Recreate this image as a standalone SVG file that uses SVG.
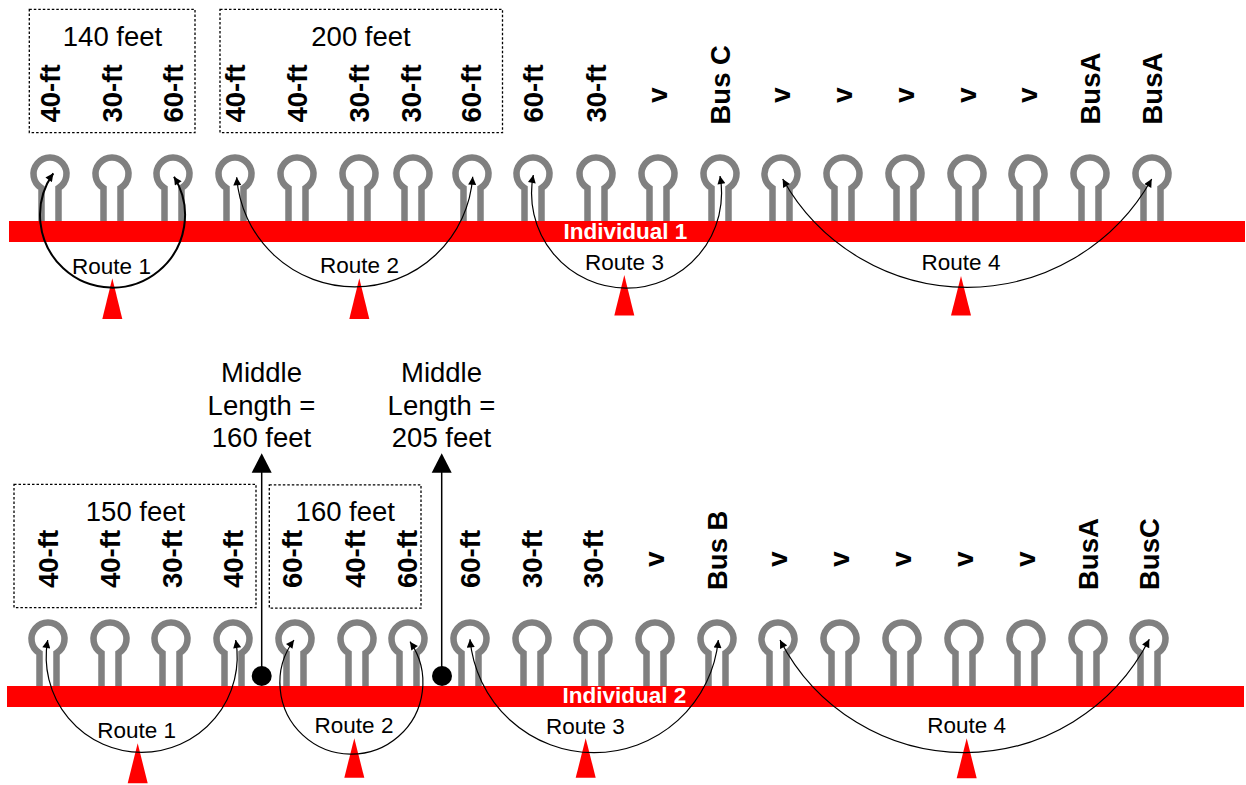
<svg xmlns="http://www.w3.org/2000/svg" xmlns:xlink="http://www.w3.org/1999/xlink" width="1246" height="785" viewBox="0 0 1246 785">
  <style>
    .loop { fill: none; stroke: #808080; stroke-width: 6.5; }
    .bar { fill: #ff0000; }
    .barlabel { font-family: "Liberation Sans", Arial, sans-serif; font-weight: bold; font-size: 22.5px; fill: #ffffff; text-anchor: middle; }
    .slot { font-family: "Liberation Sans", Arial, sans-serif; font-weight: bold; font-size: 27.5px; fill: #000000; }
    .mid { text-anchor: middle; }
    .title { font-family: "Liberation Sans", Arial, sans-serif; font-size: 27.5px; fill: #000000; text-anchor: middle; }
    .route { font-family: "Liberation Sans", Arial, sans-serif; font-size: 22.5px; fill: #000000; text-anchor: middle; }
    .box { fill: none; stroke: #000000; stroke-width: 1.3; stroke-dasharray: 2.5 2; }
    .arc { fill: none; stroke: #000000; stroke-width: 1.2; marker-start: url(#tip); marker-end: url(#tip); }
    .pointer { fill: #ff0000; }
    .stem { stroke: #000000; stroke-width: 1.5; }
  </style>
  <defs>
    <!-- keyhole slot: ring with two legs down to the chromosome bar -->
    <path id="loop" class="loop" d="M-8.5,48 V14.1 A16.5,16.5 0 1 1 8.5,14.1 V48"/>
    <marker id="tip" viewBox="0 0 10 10" refX="10" refY="5" markerWidth="9" markerHeight="8" markerUnits="userSpaceOnUse" orient="auto-start-reverse">
      <path d="M0,0 L10,5 L0,10 z" fill="#000000"/>
    </marker>
  </defs>

  <rect width="1246" height="785" fill="#ffffff"/>

  <!-- ============ Individual 1 ============ -->
  <g id="individual-1">
    <g id="i1-groups">
      <g id="i1-box-140"><rect class="box" x="29.3" y="9.3" width="165.7" height="123.4"/><text class="title" x="112.5" y="46">140 feet</text></g>
      <g id="i1-box-200"><rect class="box" x="220" y="9.3" width="282.5" height="123.4"/><text class="title" x="361" y="46">200 feet</text></g>
    </g>
    <g id="i1-slots">
      <g id="i1-s1"><use xlink:href="#loop" x="50" y="174"/><text class="slot" transform="translate(59.5,122.5) rotate(-90)">40-ft</text></g>
      <g id="i1-s2"><use xlink:href="#loop" x="112" y="174"/><text class="slot" transform="translate(121.5,122.5) rotate(-90)">30-ft</text></g>
      <g id="i1-s3"><use xlink:href="#loop" x="173" y="174"/><text class="slot" transform="translate(182.5,122.5) rotate(-90)">60-ft</text></g>
      <g id="i1-s4"><use xlink:href="#loop" x="235" y="174"/><text class="slot" transform="translate(244.5,122.5) rotate(-90)">40-ft</text></g>
      <g id="i1-s5"><use xlink:href="#loop" x="297" y="174"/><text class="slot" transform="translate(306.5,122.5) rotate(-90)">40-ft</text></g>
      <g id="i1-s6"><use xlink:href="#loop" x="359" y="174"/><text class="slot" transform="translate(368.5,122.5) rotate(-90)">30-ft</text></g>
      <g id="i1-s7"><use xlink:href="#loop" x="413" y="174"/><text class="slot" transform="translate(420.5,122.5) rotate(-90)">30-ft</text></g>
      <g id="i1-s8"><use xlink:href="#loop" x="472" y="174"/><text class="slot" transform="translate(481,122.5) rotate(-90)">60-ft</text></g>
      <g id="i1-s9"><use xlink:href="#loop" x="533" y="174"/><text class="slot" transform="translate(543,122.5) rotate(-90)">60-ft</text></g>
      <g id="i1-s10"><use xlink:href="#loop" x="596" y="174"/><text class="slot" transform="translate(605.5,122.5) rotate(-90)">30-ft</text></g>
      <g id="i1-s11"><use xlink:href="#loop" x="658" y="174"/><text class="slot mid" transform="translate(667,95) rotate(-90)">v</text></g>
      <g id="i1-s12"><use xlink:href="#loop" x="720" y="174"/><text class="slot" transform="translate(729.5,124.5) rotate(-90)">Bus C</text></g>
      <g id="i1-s13"><use xlink:href="#loop" x="781" y="174"/><text class="slot mid" transform="translate(790,95) rotate(-90)">v</text></g>
      <g id="i1-s14"><use xlink:href="#loop" x="843" y="174"/><text class="slot mid" transform="translate(852,95) rotate(-90)">v</text></g>
      <g id="i1-s15"><use xlink:href="#loop" x="905" y="174"/><text class="slot mid" transform="translate(914,95) rotate(-90)">v</text></g>
      <g id="i1-s16"><use xlink:href="#loop" x="967" y="174"/><text class="slot mid" transform="translate(976,95) rotate(-90)">v</text></g>
      <g id="i1-s17"><use xlink:href="#loop" x="1028" y="174"/><text class="slot mid" transform="translate(1037,95) rotate(-90)">v</text></g>
      <g id="i1-s18"><use xlink:href="#loop" x="1090" y="174"/><text class="slot" transform="translate(1099.5,124.5) rotate(-90)">BusA</text></g>
      <g id="i1-s19"><use xlink:href="#loop" x="1152" y="174"/><text class="slot" transform="translate(1161.5,124.5) rotate(-90)">BusA</text></g>
    </g>
    <g id="i1-bar">
      <rect class="bar" x="9" y="221" width="1236" height="21"/>
      <text class="barlabel" x="625.5" y="238.5">Individual 1</text>
    </g>
    <g id="i1-route-markers">
      <polygon class="pointer" points="112.3,278.3 122.3,319 102.3,319"/>
      <polygon class="pointer" points="359.3,278.3 369.3,319 349.3,319"/>
      <polygon class="pointer" points="624.3,275 634.3,315.5 614.3,315.5"/>
      <polygon class="pointer" points="961,276 971,315.5 951,315.5"/>
      <text class="route" x="111.5" y="274">Route 1</text>
      <text class="route" x="359.5" y="273.3">Route 2</text>
      <text class="route" x="624.5" y="270">Route 3</text>
      <text class="route" x="961" y="270">Route 4</text>
    </g>
  </g>

  <!-- ============ Individual 2 ============ -->
  <g id="individual-2">
    <g id="i2-groups">
      <g id="i2-box-150"><rect class="box" x="14" y="484.3" width="242" height="123.4"/><text class="title" x="135.5" y="521">150 feet</text></g>
      <g id="i2-box-160"><rect class="box" x="269.3" y="484.8" width="151.7" height="123.4"/><text class="title" x="345.3" y="521">160 feet</text></g>
    </g>
    <g id="i2-middle-160">
      <text class="title" x="261.5" y="382.3">Middle</text>
      <text class="title" x="261.5" y="414.7">Length =</text>
      <text class="title" x="261.5" y="447.2">160 feet</text>
    </g>
    <g id="i2-middle-205">
      <text class="title" x="441.5" y="382.3">Middle</text>
      <text class="title" x="441.5" y="414.7">Length =</text>
      <text class="title" x="441.5" y="447.2">205 feet</text>
    </g>
    <g id="i2-slots">
      <g id="i2-s1"><use xlink:href="#loop" x="48" y="639"/><text class="slot" transform="translate(58,588) rotate(-90)">40-ft</text></g>
      <g id="i2-s2"><use xlink:href="#loop" x="110" y="639"/><text class="slot" transform="translate(120,588) rotate(-90)">40-ft</text></g>
      <g id="i2-s3"><use xlink:href="#loop" x="171" y="639"/><text class="slot" transform="translate(181.5,588) rotate(-90)">30-ft</text></g>
      <g id="i2-s4"><use xlink:href="#loop" x="233" y="639"/><text class="slot" transform="translate(243,588) rotate(-90)">40-ft</text></g>
      <g id="i2-s5"><use xlink:href="#loop" x="295" y="639"/><text class="slot" transform="translate(302,588) rotate(-90)">60-ft</text></g>
      <g id="i2-s6"><use xlink:href="#loop" x="357" y="639"/><text class="slot" transform="translate(365,588) rotate(-90)">40-ft</text></g>
      <g id="i2-s7"><use xlink:href="#loop" x="408" y="639"/><text class="slot" transform="translate(417,588) rotate(-90)">60-ft</text></g>
      <g id="i2-s8"><use xlink:href="#loop" x="470" y="639"/><text class="slot" transform="translate(480,588) rotate(-90)">60-ft</text></g>
      <g id="i2-s9"><use xlink:href="#loop" x="532" y="639"/><text class="slot" transform="translate(542,588) rotate(-90)">30-ft</text></g>
      <g id="i2-s10"><use xlink:href="#loop" x="593" y="639"/><text class="slot" transform="translate(603,588) rotate(-90)">30-ft</text></g>
      <g id="i2-s11"><use xlink:href="#loop" x="655" y="639"/><text class="slot mid" transform="translate(663.5,559) rotate(-90)">v</text></g>
      <g id="i2-s12"><use xlink:href="#loop" x="717" y="639"/><text class="slot" transform="translate(727,590) rotate(-90)">Bus B</text></g>
      <g id="i2-s13"><use xlink:href="#loop" x="778" y="639"/><text class="slot mid" transform="translate(787,559) rotate(-90)">v</text></g>
      <g id="i2-s14"><use xlink:href="#loop" x="840" y="639"/><text class="slot mid" transform="translate(849,559) rotate(-90)">v</text></g>
      <g id="i2-s15"><use xlink:href="#loop" x="902" y="639"/><text class="slot mid" transform="translate(911,559) rotate(-90)">v</text></g>
      <g id="i2-s16"><use xlink:href="#loop" x="964" y="639"/><text class="slot mid" transform="translate(973,559) rotate(-90)">v</text></g>
      <g id="i2-s17"><use xlink:href="#loop" x="1026" y="639"/><text class="slot mid" transform="translate(1035,559) rotate(-90)">v</text></g>
      <g id="i2-s18"><use xlink:href="#loop" x="1088" y="639"/><text class="slot" transform="translate(1097.5,590) rotate(-90)">BusA</text></g>
      <g id="i2-s19"><use xlink:href="#loop" x="1149" y="639"/><text class="slot" transform="translate(1158.5,590) rotate(-90)">BusC</text></g>
    </g>
    <g id="i2-bar">
      <rect class="bar" x="7" y="686" width="1237" height="21"/>
      <text class="barlabel" x="624.5" y="702.7">Individual 2</text>
    </g>
    <g id="i2-route-markers">
      <polygon class="pointer" points="137.7,743.3 147.7,783.3 127.7,783.3"/>
      <polygon class="pointer" points="354.3,738.3 364.3,777.7 344.3,777.7"/>
      <polygon class="pointer" points="585.7,738.3 595.7,777.7 575.7,777.7"/>
      <polygon class="pointer" points="966.7,738.3 976.7,778.3 956.7,778.3"/>
      <text class="route" x="136.7" y="738.3">Route 1</text>
      <text class="route" x="354" y="733.3">Route 2</text>
      <text class="route" x="585.3" y="734">Route 3</text>
      <text class="route" x="966.7" y="733.3">Route 4</text>
    </g>
  </g>

  <!-- ============ connectors ============ -->
  <g id="connectors">
    <!-- routes on individual 1 -->
    <path class="arc" style="stroke-width:2" d="M53.3,173.3 A72.5,72.5 0 1 0 174,176.7"/>
    <path class="arc" d="M236.7,177.3 A118.3,118.3 0 0 0 472.7,176.7"/>
    <path class="arc" d="M533.3,175 A95,95 0 1 0 720,176"/>
    <path class="arc" d="M782.7,179 A211.3,211.3 0 0 0 1151.7,179"/>
    <!-- routes on individual 2 -->
    <path class="arc" d="M47.7,640 A95.5,95.5 0 1 0 235.7,640"/>
    <path class="arc" d="M294,640 A71.5,71.5 0 1 0 410,641.7"/>
    <path class="arc" d="M470,639.3 A124.7,124.7 0 0 0 718.3,640"/>
    <path class="arc" d="M780,640 A207.4,207.4 0 0 0 1149.3,639.3"/>
    <!-- middle-length pointers -->
    <line class="stem" x1="261.7" y1="676" x2="261.7" y2="472"/>
    <polygon points="261.7,453.3 271.7,472.7 251.7,472.7" fill="#000000"/>
    <circle cx="261.7" cy="676" r="10" fill="#000000"/>
    <line class="stem" x1="441.7" y1="676" x2="441.7" y2="472"/>
    <polygon points="441.7,453.3 451.7,472.7 431.7,472.7" fill="#000000"/>
    <circle cx="442" cy="676" r="10" fill="#000000"/>
  </g>
</svg>
